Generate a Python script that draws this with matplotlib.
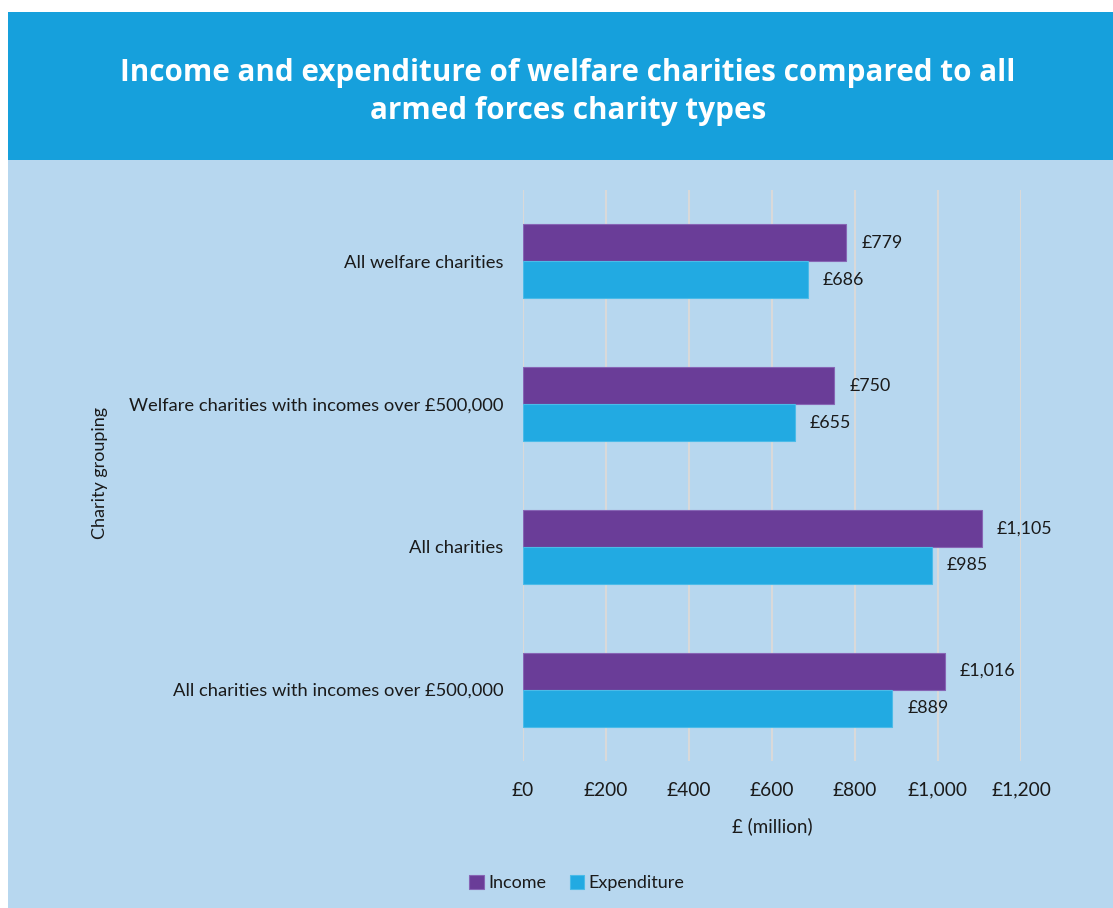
import matplotlib
matplotlib.use("Agg")
import matplotlib.pyplot as plt
from matplotlib.patches import Rectangle
import numpy as np

categories = ["All welfare charities",
              "Welfare charities with incomes over £500,000",
              "All charities",
              "All charities with incomes over £500,000"]
income = [779, 750, 1105, 1016]
expenditure = [686, 655, 985, 889]
xticks = [0, 200, 400, 600, 800, 1000, 1200]
xtick_labels = ["£0", "£200", "£400", "£600", "£800", "£1,000", "£1,200"]

plt.rcParams['font.family'] = ['Lato', 'DejaVu Sans']

W, H = 1113, 908
fig = plt.figure(figsize=(W / 100, H / 100), dpi=100)
fig.patch.set_facecolor("white")

# background panels
fig.add_artist(Rectangle((8 / W, 0), 1 - 8 / W, 1 - 160 / H, transform=fig.transFigure,
                         facecolor="#b7d7ef", edgecolor="none", zorder=0))
fig.add_artist(Rectangle((8 / W, 1 - 160 / H), 1 - 8 / W, 148 / H, transform=fig.transFigure,
                         facecolor="#16a0dc", edgecolor="none", zorder=0))
fig.text(568 / W, 1 - 92 / H,
         "Income and expenditure of welfare charities compared to all\narmed forces charity types",
         ha="center", va="center", color="white", fontsize=21.3, fontweight="bold",
         family=["Open Sans", "DejaVu Sans"], linespacing=1.34)

ax = fig.add_axes([523 / W, 1 - 761 / H, 498 / W, 571 / H])
ax.set_facecolor("none")

y = np.arange(len(categories))
h = 0.26
income_color = "#6a3d98"
exp_color = "#22aae2"
ax.barh(y - h / 2, income, height=h, color=income_color, edgecolor="#8765b5", linewidth=0.8,
        label="Income", zorder=3)
ax.barh(y + h / 2, expenditure, height=h, color=exp_color, edgecolor="#4bbbe8", linewidth=0.8,
        label="Expenditure", zorder=3)

for yi, v in zip(y, income):
    ax.annotate(f"£{v:,}", (v, yi - h / 2), xytext=(11, 0), textcoords="offset points",
                va="center", ha="left", fontsize=12.8, color="#1a1a1a")
for yi, v in zip(y, expenditure):
    ax.annotate(f"£{v:,}", (v, yi + h / 2), xytext=(11, 0), textcoords="offset points",
                va="center", ha="left", fontsize=12.8, color="#1a1a1a")

ax.set_xlim(0, 1200)
ax.set_ylim(3.5, -0.5)
ax.set_xticks(xticks)
ax.set_xticklabels(xtick_labels, fontsize=13.8, color="#1a1a1a")
ax.set_yticks(y)
ax.set_yticklabels(categories, fontsize=13.2, color="#1a1a1a")
ax.tick_params(axis="both", length=0)
ax.tick_params(axis="x", pad=15)
ax.tick_params(axis="y", pad=14)
ax.grid(axis="x", color="#d9d9d9", linewidth=1.5, zorder=1)
ax.grid(axis="y", visible=False)
for s in ax.spines.values():
    s.set_visible(False)

ax.set_xlabel("£ (million)", fontsize=13.5, color="#1a1a1a", labelpad=13)
fig.text(100 / W, 1 - 473 / H, "Charity grouping", rotation=90, ha="center", va="center",
         fontsize=13, color="#1a1a1a")

leg = fig.legend(loc="center", bbox_to_anchor=(577 / W, 1 - 883 / H), ncol=2, frameon=False,
                 fontsize=13, handlelength=0.8, handleheight=0.8, handletextpad=0.25,
                 columnspacing=1.3)
for t in leg.get_texts():
    t.set_color("#1a1a1a")

fig.savefig("out.png", dpi=100, facecolor=fig.get_facecolor())
